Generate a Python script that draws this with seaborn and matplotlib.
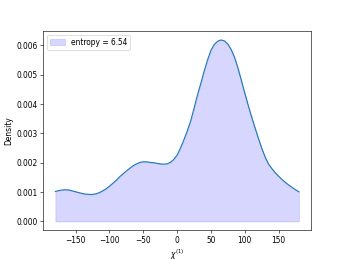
import numpy as np
import pandas as pd
import matplotlib
matplotlib.use("Agg")
import matplotlib.pyplot as plt
import seaborn as sns

# density curve, every 5 degrees
angle = [-180, -175, -170, -165, -160, -155, -150, -145, -140, -135,
         -130, -125, -120, -115, -110, -105, -100, -95, -90, -85,
         -80, -75, -70, -65, -60, -55, -50, -45, -40, -35,
         -30, -25, -20, -15, -10, -5, 0, 5, 10, 15,
         20, 25, 30, 35, 40, 45, 50, 55, 60, 65,
         70, 75, 80, 85, 90, 95, 100, 105, 110, 115,
         120, 125, 130, 135, 140, 145, 150, 155, 160, 165,
         170, 175, 180]
density = [0.00102, 0.00105, 0.00107, 0.00108, 0.00107, 0.00104, 0.00101, 0.00098, 0.00095, 0.00093,
           0.00092, 0.00092, 0.00094, 0.00098, 0.00104, 0.00111, 0.00120, 0.00130, 0.00140, 0.00152,
           0.00162, 0.00172, 0.00181, 0.00190, 0.00196, 0.00201, 0.00203, 0.00203, 0.00201, 0.00200,
           0.00198, 0.00196, 0.00195, 0.00196, 0.00201, 0.00211, 0.00226, 0.00250, 0.00278, 0.00308,
           0.00342, 0.00385, 0.00430, 0.00470, 0.00512, 0.00550, 0.00583, 0.00603, 0.00614, 0.00618,
           0.00615, 0.00604, 0.00585, 0.00558, 0.00522, 0.00480, 0.00437, 0.00396, 0.00357, 0.00320,
           0.00284, 0.00250, 0.00220, 0.00196, 0.00180, 0.00166, 0.00154, 0.00143, 0.00133, 0.00124,
           0.00116, 0.00108, 0.00101]
entropy = 6.54

df = pd.DataFrame({"chi": angle, "Density": density})

fig, ax = plt.subplots(figsize=(6.4, 4.8), dpi=54)
sns.lineplot(data=df, x="chi", y="Density", ax=ax, color="#1f77b4", linewidth=1.5)
ax.fill_between(df["chi"], df["Density"], color="blue", alpha=0.16,
                label="entropy = %.2f" % entropy)
ax.set_xlabel(r"$\chi^{(1)}$")
ax.set_ylabel("Density")
ax.legend(loc="upper left")
fig.savefig("out.png", dpi=54)
